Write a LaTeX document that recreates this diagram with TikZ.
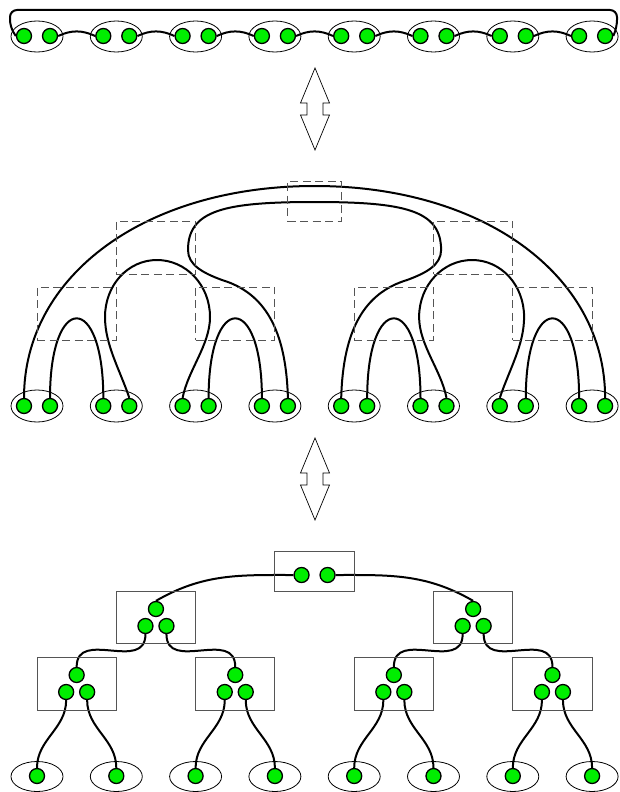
\documentclass[tikz,border=0pt]{standalone}
\usetikzlibrary{shapes.geometric}
\definecolor{ballgreen}{HTML}{00EE00}
\definecolor{boxgray}{HTML}{555555}
\pgfdeclarelayer{bg}
\pgfsetlayers{bg,main}
\begin{document}
\begin{tikzpicture}[x=1pt,y=1pt,
  ball/.style={circle,draw=black,line width=1.3pt,fill=ballgreen,minimum size=15pt,inner sep=0pt},
  pairell/.style={ellipse,draw=black,line width=0.8pt,minimum width=52pt,minimum height=31pt,inner sep=0pt},
  link/.style={line width=2pt,black},
  dbox/.style={draw=boxgray,line width=0.9pt,dash pattern=on 8pt off 4.5pt,inner sep=0pt,outer sep=0pt,minimum width=79.3pt,minimum height=53pt},
  sbox/.style={draw=boxgray,line width=0.9pt,inner sep=0pt,outer sep=0pt,minimum width=79.3pt,minimum height=53pt},
  dblarrow/.style={draw=black,line width=0.7pt,fill=white}]
\useasboundingbox (0,0) rectangle (619,-792);

% ---------- pairs: top row, middle row, leaves ----------
\foreach \i in {0,...,7}{
  \pgfmathsetmacro\px{37+79.3*\i}
  \pgfmathtruncatemacro\na{2*\i+1}
  \pgfmathtruncatemacro\nb{2*\i+2}
  \pgfmathtruncatemacro\nl{\i+1}
  \node[pairell] (TE\nl) at (\px,-36.5) {};
  \node[ball] (T\na) at (\px-13,-36) {};
  \node[ball] (T\nb) at (\px+13,-36) {};
  \node[pairell,minimum height=32pt] (ME\nl) at (\px,-406) {};
  \node[ball] (M\na) at (\px-13,-406) {};
  \node[ball] (M\nb) at (\px+13,-406) {};
  \node[pairell,minimum height=30pt] (LE\nl) at (\px,-776.5) {};
  \node[ball] (L\nl) at (\px,-776) {};
}

% ---------- top row links ----------
\begin{pgfonlayer}{bg}
\foreach \k in {1,...,7}{
  \pgfmathtruncatemacro\ka{2*\k}
  \pgfmathtruncatemacro\kb{2*\k+1}
  \draw[link] (T\ka.east) to[out=25,in=155] (T\kb.west);
}
\draw[link,rounded corners=7pt] (T1.west) -- (10,-27) -- (10,-10) -- (617,-10) -- (617,-27) -- (T16.east);
\end{pgfonlayer}

% ---------- double arrows ----------
\foreach \dy in {0,370}{
  \draw[dblarrow] (315,-68-\dy) -- (329.5,-103-\dy) -- (323,-103-\dy) -- (323,-115-\dy)
    -- (329.5,-115-\dy) -- (315,-150-\dy) -- (300.5,-115-\dy) -- (307,-115-\dy)
    -- (307,-103-\dy) -- (300.5,-103-\dy) -- cycle;
}

% ---------- middle dashed boxes ----------
\node[dbox] (dA) at (76.65,-313.5) {};
\node[dbox] (dB) at (155.95,-247.5) {};
\node[dbox] (dC) at (235.25,-313.5) {};
\node[dbox,minimum width=54pt,minimum height=40pt] (dT) at (314.55,-201) {};
\node[dbox] (dD) at (393.85,-313.5) {};
\node[dbox] (dE) at (473.15,-247.5) {};
\node[dbox] (dF) at (552.45,-313.5) {};

% ---------- middle links ----------
\begin{pgfonlayer}{bg}
% outer arc
\draw[link] (M1.north) .. controls (24,-275) and (146,-186) .. (314.55,-186)
  .. controls (483.1,-186) and (605.1,-275) .. (M16.north);
% small arches
\draw[link] (M2.north) to[out=90,in=90,looseness=5.1] (M3.north);
\draw[link] (M6.north) to[out=90,in=90,looseness=5.1] (M7.north);
\draw[link] (M10.north) to[out=90,in=90,looseness=5.1] (M11.north);
\draw[link] (M14.north) to[out=90,in=90,looseness=5.1] (M15.north);
% bulbs
\draw[link] (M4.north) .. controls (120,-370) and (105,-345) .. (105,-317)
  .. controls (105,-285) and (128,-260) .. (157,-260)
  .. controls (186,-260) and (210,-285) .. (210,-317)
  .. controls (210,-345) and (188,-370) .. (M5.north);
\draw[link] (M13.north) .. controls (509.1,-370) and (524.1,-345) .. (524.1,-317)
  .. controls (524.1,-285) and (501.1,-260) .. (472.1,-260)
  .. controls (443.1,-260) and (419.1,-285) .. (419.1,-317)
  .. controls (419.1,-345) and (441.1,-370) .. (M12.north);
% inner loop
\draw[link] (M8.north) .. controls (286,-330) and (265,-293) .. (222,-280)
  .. controls (203,-273) and (188,-265) .. (188,-250)
  .. controls (188,-210) and (225,-202) .. (314.55,-202)
  .. controls (404.1,-202) and (441.1,-210) .. (441.1,-250)
  .. controls (441.1,-265) and (426.1,-273) .. (407.1,-280)
  .. controls (364.1,-293) and (343.1,-330) .. (M9.north);
\end{pgfonlayer}

% ---------- bottom tree ----------
\node[sbox] (sA) at (76.65,-683.5) {};
\node[sbox,minimum height=52pt] (sB) at (155.95,-617) {};
\node[sbox] (sC) at (235.25,-683.5) {};
\node[sbox,minimum width=80pt,minimum height=40pt] (sT) at (314.55,-571) {};
\node[sbox] (sD) at (393.85,-683.5) {};
\node[sbox,minimum height=52pt] (sE) at (473.15,-617) {};
\node[sbox] (sF) at (552.45,-683.5) {};

\node[ball] (R1) at (301.55,-575) {};
\node[ball] (R2) at (327.55,-575) {};
\node[ball] (Lft1) at (155.95,-609) {};
\node[ball] (Lft2) at (145.45,-626) {};
\node[ball] (Lft3) at (166.45,-626) {};
\node[ball] (Rgt1) at (473.15,-609) {};
\node[ball] (Rgt2) at (462.65,-626) {};
\node[ball] (Rgt3) at (483.65,-626) {};
\foreach \nm/\cx in {A/76.65,C/235.25,D/393.85,F/552.45}{
  \node[ball] (\nm1) at (\cx,-675) {};
  \node[ball] (\nm2) at (\cx-10.5,-692) {};
  \node[ball] (\nm3) at (\cx+10.5,-692) {};
}

\begin{pgfonlayer}{bg}
\draw[link] (R1.west) to[out=180,in=30] (Lft1.north);
\draw[link] (R2.east) to[out=0,in=150] (Rgt1.north);
\draw[link] (Lft2.south) to[out=-90,in=90,looseness=1.3] (A1.north);
\draw[link] (Lft3.south) to[out=-90,in=90,looseness=1.3] (C1.north);
\draw[link] (Rgt2.south) to[out=-90,in=90,looseness=1.3] (D1.north);
\draw[link] (Rgt3.south) to[out=-90,in=90,looseness=1.3] (F1.north);
\draw[link] (A2.south) to[out=-90,in=90] (L1.north);
\draw[link] (A3.south) to[out=-90,in=90] (L2.north);
\draw[link] (C2.south) to[out=-90,in=90] (L3.north);
\draw[link] (C3.south) to[out=-90,in=90] (L4.north);
\draw[link] (D2.south) to[out=-90,in=90] (L5.north);
\draw[link] (D3.south) to[out=-90,in=90] (L6.north);
\draw[link] (F2.south) to[out=-90,in=90] (L7.north);
\draw[link] (F3.south) to[out=-90,in=90] (L8.north);
\end{pgfonlayer}
\end{tikzpicture}
\end{document}
